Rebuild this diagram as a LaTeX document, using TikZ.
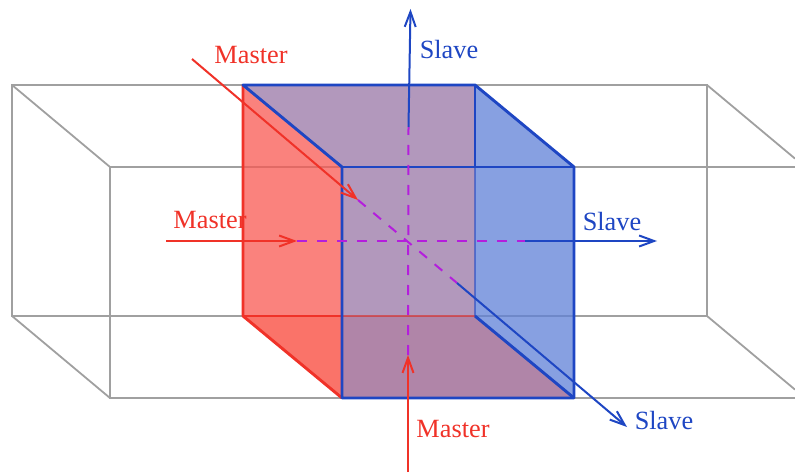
\documentclass[tikz,border=0pt]{standalone}
\usepackage{fontspec}
\setmainfont{Liberation Serif}
\usetikzlibrary{arrows.meta}

\definecolor{masterred}{RGB}{240,50,40}
\definecolor{slaveblue}{RGB}{30,70,195}
\definecolor{sharedline}{RGB}{180,30,220}
\definecolor{boxgray}{RGB}{160,160,160}
\definecolor{redface}{RGB}{248,88,82}
\definecolor{reddeep}{RGB}{248,68,55}
\definecolor{blueface}{RGB}{95,128,215}
\definecolor{mixface}{RGB}{152,118,166}
\definecolor{mixdeep}{RGB}{150,92,139}

\begin{document}
\begin{tikzpicture}[
        x = 1pt, y = -1pt,
        >= {Straight Barb[length = 15pt, width = 11pt]},
        box/.style = {draw = boxgray, line width = 1.8pt},
        face/.style = {fill opacity = 0.75},
        masteredge/.style = {draw = masterred, line width = 2.9pt, line join = round},
        slaveedge/.style = {draw = slaveblue, line width = 2.9pt, line join = round},
        masterarrow/.style = {->, draw = masterred, line width = 2pt},
        slavearrow/.style = {->, draw = slaveblue, line width = 2pt},
        shared/.style = {draw = sharedline, line width = 2pt, dash pattern = on 10pt off 10pt},
        masterlabel/.style = {text = masterred, font = \fontsize{26.3}{30}\selectfont, inner sep = 0pt},
        slavelabel/.style = {text = slaveblue, font = \fontsize{26.3}{30}\selectfont, inner sep = 0pt}
    ]

    \useasboundingbox (0,0) rectangle (795,473);

    % outer box
    \coordinate (oa) at (12,85);
    \coordinate (ob) at (707,85);
    \coordinate (oc) at (707,316);
    \coordinate (od) at (12,316);
    \coordinate (oe) at (110,167);
    \coordinate (of) at (795,167);
    \coordinate (og) at (795,398);
    \coordinate (oh) at (110,398);
    \coordinate (obe) at (795,158.6);
    \coordinate (oce) at (795,389.6);

    % cube
    \coordinate (ca) at (243,85);
    \coordinate (cb) at (475,85);
    \coordinate (cc) at (475,316);
    \coordinate (cd) at (243,316);
    \coordinate (ce) at (342,167);
    \coordinate (cf) at (574,167);
    \coordinate (cg) at (574,398);
    \coordinate (ch) at (342,398);
    \coordinate (ci) at (342,316);
    \coordinate (cj) at (475,167);

    % arrow ends
    \coordinate (mdstart) at (192,59);
    \coordinate (mdend)   at (358,200);
    \coordinate (sdstart) at (457,283);
    \coordinate (sdend)   at (627,427);
    \coordinate (mhstart) at (166,241);
    \coordinate (mhend)   at (297,241);
    \coordinate (shstart) at (525,241);
    \coordinate (shend)   at (657,241);
    \coordinate (mvstart) at (408,472);
    \coordinate (mvend)   at (408,355);
    \coordinate (svstart) at (408.5,127);
    \coordinate (svend)   at (410.5,9);

    \draw[box] (oa) -- (ob) -- (oc) -- (od) -- cycle;
    \draw[box] (of) -- (oe) -- (oh) -- (og);
    \draw[box] (oa) -- (oe) (od) -- (oh) (ob) -- (obe) (oc) -- (oce);

    \fill[face, redface]  (ca) -- (ce) -- (ci) -- (cd) -- cycle;
    \fill[face, reddeep]  (cd) -- (ci) -- (ch) -- cycle;
    \fill[face, blueface] (cb) -- (cf) -- (cg) -- (cc) -- cycle;
    \fill[face, mixface]  (ca) -- (cb) -- (cc) -- (ci) -- (ce) -- cycle;
    \fill[face, mixdeep]  (ci) -- (cc) -- (cg) -- (ch) -- cycle;

    \draw[masteredge] (ch) -- (cd) -- (ca);
    \draw[masteredge] (cd) -- (ci);
    \draw[masteredge, opacity = 0.55] (ci) -- (cc);
    \draw[slaveedge, opacity = 0.55] (cj) -- (cc);
    \draw[slaveedge] (ce) -- (ca) -- (cb) -- (cf) -- (cg) -- (ch) -- cycle;
    \draw[slaveedge] (ce) -- (cf);
    \draw[slaveedge] (cb) -- (cj);
    \draw[slaveedge] (cc) -- (cg);

    \draw[shared] (mhend) -- (shstart);
    \draw[shared] (mvend) -- (svstart);
    \draw[shared] (mdend) -- (sdstart);

    \draw[masterarrow] (mdstart) -- (mdend);
    \draw[masterarrow] (mhstart) -- (mhend);
    \draw[masterarrow] (mvstart) -- (mvend);
    \draw[slavearrow] (sdstart) -- (sdend);
    \draw[slavearrow] (shstart) -- (shend);
    \draw[slavearrow] (svstart) -- (svend);

    \node[masterlabel] (masterdiag)  at (251,55)  {Master};
    \node[masterlabel] (masterhoriz) at (210,220) {Master};
    \node[masterlabel] (mastervert)  at (453,429) {Master};
    \node[slavelabel]  (slavevert)   at (449,50)  {Slave};
    \node[slavelabel]  (slavehoriz)  at (612,222) {Slave};
    \node[slavelabel]  (slavediag)   at (664,421) {Slave};
\end{tikzpicture}
\end{document}
